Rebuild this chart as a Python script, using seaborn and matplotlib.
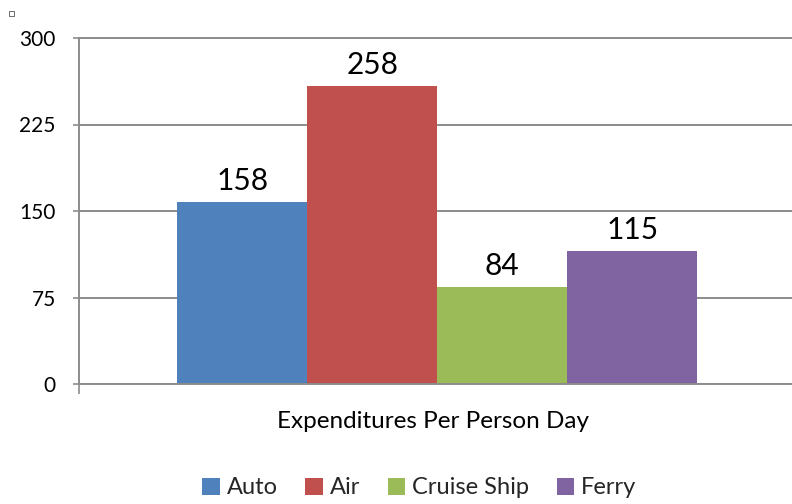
import matplotlib
matplotlib.use("Agg")
import matplotlib.pyplot as plt
import seaborn as sns
import pandas as pd
from matplotlib.patches import Rectangle

# ---- data ----
category = ["Expenditures Per Person Day"]
modes = ["Auto", "Air", "Cruise Ship", "Ferry"]
values = [158, 258, 84, 115]
colors = ["#4F81BD", "#C0504D", "#9BBB59", "#8064A2"]
yticks = [0, 75, 150, 225, 300]

df = pd.DataFrame({"cat": category * len(modes), "mode": modes, "value": values})

sns.set_theme(style="white")
plt.rcParams["font.family"] = ["Lato", "DejaVu Sans"]

W, H = 792, 504
fig = plt.figure(figsize=(W / 100, H / 100), dpi=100)
ax = fig.add_axes([79 / W, 1 - 384 / H, 713 / W, 346 / H])

sns.barplot(data=df, x="cat", y="value", hue="mode", palette=colors,
            hue_order=modes, linewidth=0, saturation=1, ax=ax, legend=True,
            errorbar=None)

grid_c = "#8c8c8c"
ax.set_ylim(0, 300)
ax.set_yticks(yticks)
ax.set_yticklabels([str(v) for v in yticks], fontsize=15, color="black")
ax.set_xlim(-0.551, 0.546)
ax.yaxis.grid(True, color=grid_c, linewidth=1.4)
ax.set_axisbelow(True)

ax.tick_params(axis="y", which="major", direction="out", length=4.3, width=1.2,
               color=grid_c, pad=12.5, left=True)
ax.set_xticks([])
ax.set_xticks([-0.551], minor=True)
ax.tick_params(axis="x", which="minor", direction="out", length=7, width=1.2,
               color=grid_c, bottom=True, labelbottom=False)

for s in ["left", "bottom", "top"]:
    ax.spines[s].set_color(grid_c)
    ax.spines[s].set_linewidth(1.4)
ax.spines["right"].set_visible(False)

ax.set_ylabel("")
ax.set_xlabel("Expenditures Per Person Day", fontsize=17.5, color="black")
ax.xaxis.set_label_coords((433 - 79) / 713, (384 - 411) / 346)

for cont in ax.containers:
    ax.bar_label(cont, fmt="%d", fontsize=21.5, padding=5, color="black")

leg = ax.legend(loc="center", bbox_to_anchor=(419.5 / W, 1 - 488 / H),
                bbox_transform=fig.transFigure, ncol=4, frameon=False,
                fontsize=17, handlelength=0.75, handleheight=0.75,
                handletextpad=0.3, columnspacing=1.15)

# small marker square at top-left
fig.patches.append(Rectangle((9 / W, 1 - 16 / H), 5 / W, 5 / H,
                             transform=fig.transFigure, fill=False,
                             edgecolor="#555555", linewidth=0.6))

fig.savefig("out.png", dpi=100, facecolor="white")
